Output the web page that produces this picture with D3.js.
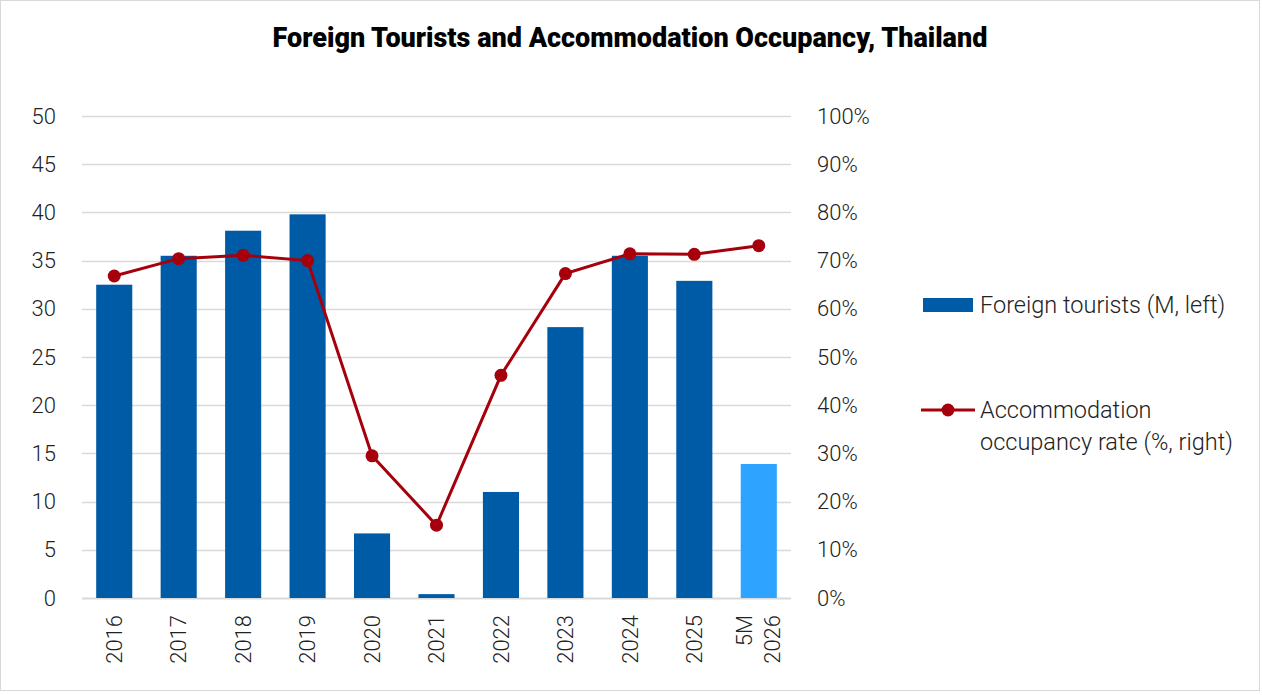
<!DOCTYPE html>
<html>
<head>
<meta charset="utf-8">
<script src="https://cdn.jsdelivr.net/npm/d3@7"></script>
<style>
  html, body { margin: 0; padding: 0; background: #fff; }
  svg text { font-family: Roboto, "Liberation Sans", sans-serif; }
</style>
</head>
<body>
<div id="chart"></div>
<script>
// Foreign tourists vs accommodation occupancy, Thailand

const categories = ["2016", "2017", "2018", "2019", "2020", "2021", "2022", "2023", "2024", "2025", "5M 2026"];
const tourists = [32.5, 35.5, 38.1, 39.8, 6.7, 0.4, 11.0, 28.1, 35.5, 32.9, 13.9];
const occupancy = [66.8, 70.4, 71.1, 70.0, 29.5, 15.1, 46.2, 67.3, 71.4, 71.3, 73.1];
const leftTicks = [0, 5, 10, 15, 20, 25, 30, 35, 40, 45, 50];
const rightTicks = [0, 10, 20, 30, 40, 50, 60, 70, 80, 90, 100];

const width = 1262, height = 695;
const margin = { top: 116, left: 82, right: 1262 - 791, bottom: 695 - 598 };

const barColor = "#005BA6";
const partialColor = "#2EA3FF";
const lineColor = "#A5000B";
const gridColor = "#d9d9d9";
const tickSize = 22;

const svg = d3.select("#chart").append("svg")
    .attr("width", width)
    .attr("height", height);

// chart frame
svg.append("rect")
    .attr("x", 0.5).attr("y", 0.5)
    .attr("width", width - 3).attr("height", height - 5)
    .attr("fill", "#fff")
    .attr("stroke", gridColor);

svg.append("text")
    .attr("x", 630).attr("y", 47)
    .attr("text-anchor", "middle")
    .attr("font-size", 27)
    .attr("font-weight", 900)
    .attr("fill", "#000")
    .text("Foreign Tourists and Accommodation Occupancy, Thailand");

const x = d3.scaleBand()
    .domain(categories)
    .range([margin.left, width - margin.right])
    .paddingInner(0.44)
    .paddingOuter(0.22);

const yLeft = d3.scaleLinear().domain([0, 50]).range([height - margin.bottom, margin.top]);
const yRight = d3.scaleLinear().domain([0, 100]).range([height - margin.bottom, margin.top]);

// gridlines
svg.append("g")
    .selectAll("line")
    .data(leftTicks)
    .enter().append("line")
    .attr("x1", margin.left)
    .attr("x2", width - margin.right)
    .attr("y1", d => Math.round(yLeft(d)) + 0.5)
    .attr("y2", d => Math.round(yLeft(d)) + 0.5)
    .attr("stroke", gridColor)
    .attr("stroke-width", d => d === 0 ? 2 : 1.5);

// left axis
const leftAxis = svg.append("g")
    .attr("transform", `translate(${margin.left},0)`)
    .call(d3.axisLeft(yLeft).tickValues(leftTicks).tickSize(0).tickPadding(26));
leftAxis.select(".domain").remove();
leftAxis.selectAll("text")
    .attr("font-size", tickSize)
    .attr("font-weight", 300)
    .attr("fill", "#222");

// right axis
const rightAxis = svg.append("g")
    .attr("transform", `translate(${width - margin.right},0)`)
    .call(d3.axisRight(yRight).tickValues(rightTicks).tickSize(0).tickPadding(26)
        .tickFormat(d => d + "%"));
rightAxis.select(".domain").remove();
rightAxis.selectAll("text")
    .attr("font-size", tickSize)
    .attr("font-weight", 300)
    .attr("fill", "#222");

// bars
svg.append("g")
    .selectAll("rect")
    .data(categories)
    .enter().append("rect")
    .attr("x", d => x(d))
    .attr("width", x.bandwidth())
    .attr("y", (d, i) => yLeft(tourists[i]))
    .attr("height", (d, i) => yLeft(0) - yLeft(tourists[i]))
    .attr("fill", (d, i) => i === categories.length - 1 ? partialColor : barColor);

// x labels, rotated
const xLabels = svg.append("g")
    .selectAll("g")
    .data(categories)
    .enter().append("g")
    .attr("transform", d => `translate(${x(d) + x.bandwidth() / 2},${height - margin.bottom + 17}) rotate(-90)`);

xLabels.each(function (d) {
    const lines = d.split(" ");
    const g = d3.select(this);
    lines.forEach((ln, j) => {
        g.append("text")
            .attr("x", 0)
            .attr("y", (j - (lines.length - 1) / 2) * 28)
            .attr("dy", "0.35em")
            .attr("text-anchor", "end")
            .attr("font-size", tickSize)
            .attr("font-weight", 300)
            .attr("fill", "#222")
            .text(ln);
    });
});

// occupancy line
const line = d3.line()
    .x((d, i) => x(categories[i]) + x.bandwidth() / 2)
    .y(d => yRight(d));

svg.append("path")
    .datum(occupancy)
    .attr("d", line)
    .attr("fill", "none")
    .attr("stroke", lineColor)
    .attr("stroke-width", 3);

svg.append("g")
    .selectAll("circle")
    .data(occupancy)
    .enter().append("circle")
    .attr("cx", (d, i) => x(categories[i]) + x.bandwidth() / 2)
    .attr("cy", d => yRight(d))
    .attr("r", 6.5)
    .attr("fill", lineColor);

// legend
const legend = svg.append("g");
legend.append("rect")
    .attr("x", 923).attr("y", 298)
    .attr("width", 50).attr("height", 14)
    .attr("fill", barColor);
legend.append("text")
    .attr("x", 980).attr("y", 313)
    .attr("font-size", 23.5)
    .attr("font-weight", 300)
    .attr("fill", "#222")
    .text("Foreign tourists (M, left)");

legend.append("line")
    .attr("x1", 921).attr("x2", 975)
    .attr("y1", 410).attr("y2", 410)
    .attr("stroke", lineColor)
    .attr("stroke-width", 3);
legend.append("circle")
    .attr("cx", 948).attr("cy", 410)
    .attr("r", 6.5)
    .attr("fill", lineColor);
legend.append("text")
    .attr("x", 980).attr("y", 418)
    .attr("font-size", 23.5)
    .attr("font-weight", 300)
    .attr("fill", "#222")
    .text("Accommodation");
legend.append("text")
    .attr("x", 980).attr("y", 450)
    .attr("font-size", 23.5)
    .attr("font-weight", 300)
    .attr("fill", "#222")
    .text("occupancy rate (%, right)");
</script>
</body>
</html>
